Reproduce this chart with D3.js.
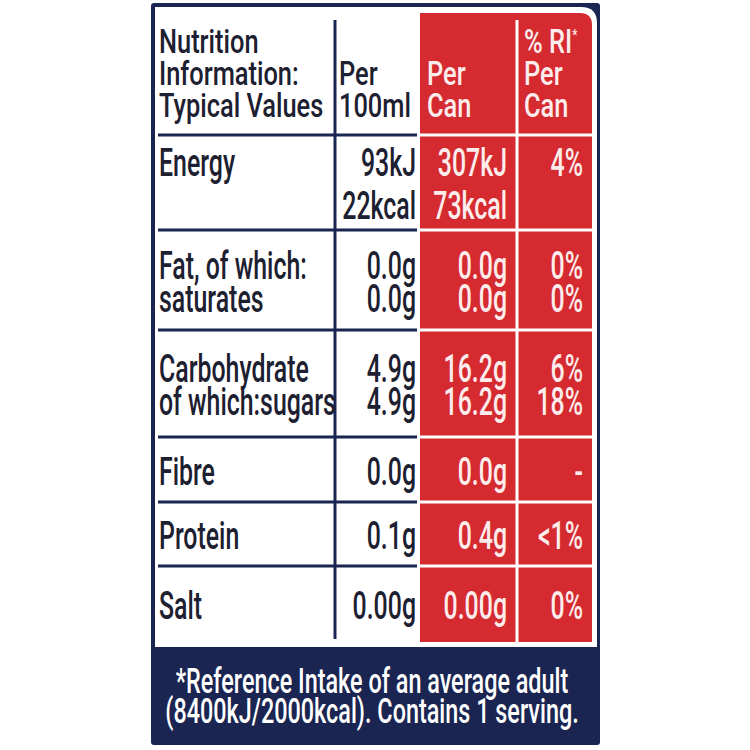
<!DOCTYPE html>
<html>
<head>
<meta charset="utf-8">
<script src="https://cdn.jsdelivr.net/npm/d3@7"></script>
<style>
  body { margin: 0; background: #fff; }
  svg text { font-family: Roboto, "Liberation Sans", sans-serif; }
</style>
</head>
<body>
<script>
// label content
var headerTitle = ["Nutrition", "Information:", "Typical Values"];
var header100ml = ["Per", "100ml"];
var headerCan = ["Per", "Can"];
var headerRI = ["% RI", "Per", "Can"];

var rowLabels = [["Energy"], ["Fat, of which:", "saturates"], ["Carbohydrate", "of which:sugars"], ["Fibre"], ["Protein"], ["Salt"]];
var per100ml = [["93kJ", "22kcal"], ["0.0g", "0.0g"], ["4.9g", "4.9g"], ["0.0g"], ["0.1g"], ["0.00g"]];
var perCan = [["307kJ", "73kcal"], ["0.0g", "0.0g"], ["16.2g", "16.2g"], ["0.0g"], ["0.4g"], ["0.00g"]];
var riPerCan = [["4%"], ["0%", "0%"], ["6%", "18%"], ["-"], ["<1%"], ["0%"]];

var footnote = ["*Reference Intake of an average adult", "(8400kJ/2000kcal). Contains 1 serving."];

// layout
var W = 750, H = 750;
var navy = "#1b2551", red = "#d52a30", ink = "#1d2030", pale = "#fcecec";
var rowHeights = [95, 100, 107, 65, 64, 76];
var headerBottom = 135;

var svg = d3.select("body").append("svg")
    .attr("width", W)
    .attr("height", H);

// column anchors
var colX = d3.scaleOrdinal()
    .domain(["label", "div1", "per100", "redL", "perCan", "div2", "ri", "redR"])
    .range([159, 335, 416, 420, 507, 517, 583, 592]);

// row tops
var rowTop = [headerBottom];
rowHeights.forEach(function(h, i) { rowTop.push(rowTop[i] + h); });
var tableBottom = rowTop[rowTop.length - 1];

// frame
svg.append("rect")
    .attr("x", 151).attr("y", 3)
    .attr("width", 449).attr("height", 742)
    .attr("rx", 3)
    .attr("fill", navy);

function topRightRounded(x0, y0, x1, y1, r) {
    return "M" + x0 + "," + y0 + "H" + (x1 - r) +
        "Q" + x1 + "," + y0 + " " + x1 + "," + (y0 + r) +
        "V" + y1 + "H" + x0 + "Z";
}

svg.append("path")
    .attr("d", topRightRounded(155, 7, 597, tableBottom + 5, 16))
    .attr("fill", "#fff");

svg.append("path")
    .attr("d", topRightRounded(colX("redL"), 13, colX("redR"), tableBottom, 12))
    .attr("fill", red);

// divider lines
svg.append("line")
    .attr("x1", colX("div1")).attr("x2", colX("div1"))
    .attr("y1", 20).attr("y2", tableBottom - 3)
    .attr("stroke", navy).attr("stroke-width", 3);

svg.append("line")
    .attr("x1", colX("div2")).attr("x2", colX("div2"))
    .attr("y1", 20).attr("y2", tableBottom)
    .attr("stroke", "#fff").attr("stroke-width", 3);

var ruleYs = rowTop.slice(0, rowTop.length - 1);

svg.selectAll("line.rule")
    .data(ruleYs)
    .enter().append("line")
    .attr("class", "rule")
    .attr("x1", 158).attr("x2", colX("per100") + 1)
    .attr("y1", function(d) { return d; })
    .attr("y2", function(d) { return d; })
    .attr("stroke", navy).attr("stroke-width", 3);

svg.selectAll("line.rule-red")
    .data(ruleYs)
    .enter().append("line")
    .attr("class", "rule-red")
    .attr("x1", colX("redL")).attr("x2", colX("redR"))
    .attr("y1", function(d) { return d; })
    .attr("y2", function(d) { return d; })
    .attr("stroke", "#fff").attr("stroke-width", 3);

// text helper, glyphs squeezed to look like a condensed DIN face
function put(str, x, y, anchor, size, fill, squeeze) {
    return svg.append("text")
        .attr("transform", "translate(" + x + "," + y + ") scale(" + squeeze + ",1)")
        .attr("text-anchor", anchor)
        .attr("font-size", size)
        .attr("font-weight", 500)
        .attr("fill", fill)
        .text(str);
}

// header
var hBase = [53, 85, 117];
var hs = 33, hq = 0.77;
headerTitle.forEach(function(t, i) { put(t, 159, hBase[i], "start", hs, ink, hq); });
header100ml.forEach(function(t, i) { put(t, 339, hBase[i + 1], "start", hs, ink, hq); });
headerCan.forEach(function(t, i) { put(t, 427, hBase[i + 1], "start", hs, pale, hq); });
headerRI.forEach(function(t, i) {
    var el = put(t, 524, hBase[i], "start", hs, pale, hq);
    if (i == 0) {
        el.append("tspan").attr("dy", -13).attr("font-size", 15).text("*");
    }
});

// body rows
var bs = 38, bq = 0.655;
rowLabels.forEach(function(lines, r) {
    var gap = r == 0 ? 43 : 33;
    var n = Math.max(lines.length, per100ml[r].length, perCan[r].length);
    var first = rowTop[r] + (rowHeights[r] - (n - 1) * gap) / 2 + 15;
    function yAt(i) { return first + i * gap; }
    lines.forEach(function(t, i) { put(t, colX("label"), yAt(i), "start", bs, ink, bq); });
    per100ml[r].forEach(function(t, i) { put(t, colX("per100"), yAt(i), "end", bs, ink, bq); });
    perCan[r].forEach(function(t, i) { put(t, colX("perCan"), yAt(i), "end", bs, pale, bq); });
    riPerCan[r].forEach(function(t, i) { put(t, colX("ri"), yAt(i), "end", bs, pale, bq); });
});

// footnote
footnote.forEach(function(t, i) {
    put(t, 372, 693 + i * 30, "middle", 36, "#fff", 0.65);
});
</script>
</body>
</html>
